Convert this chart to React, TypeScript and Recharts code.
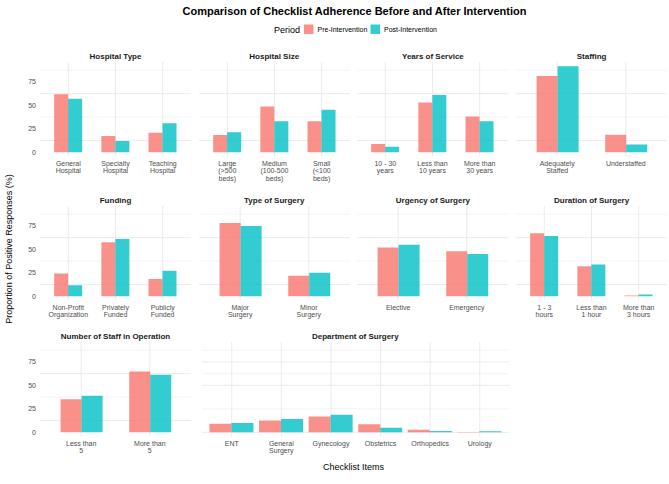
import React from 'react';
import { BarChart, Bar, XAxis, YAxis, CartesianGrid } from 'recharts';

// ---- data (proportion of positive responses, %) ----
const hospitalTypeCats = ['General\nHospital', 'Specialty\nHospital', 'Teaching\nHospital'];
const hospitalTypePre = [61.8, 17.4, 20.8];
const hospitalTypePost = [57.1, 12.0, 30.9];

const hospitalSizeCats = ['Large\n(>500\nbeds)', 'Medium\n(100-500\nbeds)', 'Small\n(<100\nbeds)'];
const hospitalSizePre = [18.3, 48.7, 33.0];
const hospitalSizePost = [21.4, 33.2, 45.4];

const serviceCats = ['10 - 30\nyears', 'Less than\n10 years', 'More than\n30 years'];
const servicePre = [8.8, 53.0, 38.2];
const servicePost = [6.0, 61.0, 33.0];

const staffingCats = ['Adequately\nStaffed', 'Understaffed'];
const staffingPre = [81.2, 18.8];
const staffingPost = [91.6, 8.4];

const fundingCats = ['Non-Profit\nOrganization', 'Privately\nFunded', 'Publicly\nFunded'];
const fundingPre = [24.2, 57.5, 18.3];
const fundingPost = [11.7, 61.1, 27.2];

const surgeryTypeCats = ['Major\nSurgery', 'Minor\nSurgery'];
const surgeryTypePre = [78.1, 21.9];
const surgeryTypePost = [74.9, 25.1];

const urgencyCats = ['Elective', 'Emergency'];
const urgencyPre = [51.9, 48.1];
const urgencyPost = [54.9, 45.1];

const durationCats = ['1 - 3\nhours', 'Less than\n1 hour', 'More than\n3 hours'];
const durationPre = [67.2, 31.9, 0.9];
const durationPost = [64.3, 33.8, 1.9];

const staffCountCats = ['Less than\n5', 'More than\n5'];
const staffCountPre = [35.2, 64.8];
const staffCountPost = [38.8, 61.2];

const departmentCats = ['ENT', 'General\nSurgery', 'Gynecology', 'Obstetrics', 'Orthopedics', 'Urology'];
const departmentPre = [18.0, 25.0, 33.6, 17.2, 5.4, 0.8];
const departmentPost = [19.8, 28.2, 37.4, 9.8, 2.8, 2.0];

const yMajorTicks = [0, 25, 50, 75];
const yMinorTicks = [12.5, 37.5, 62.5, 87.5];

// ---- styling / layout ----
const PRE = '#F8766D';
const POST = '#00BFC4';
const FONT = '"Liberation Sans", Arial, Helvetica, sans-serif';
const GRID = '#EBEBEB';
const COL_LEFT = [40, 198.7, 357.4, 516.1];
const ROW_TOP = [61.7, 205.9, 342];
const PANEL_W = 151;
const PANEL_H = 94.6;
const LABEL_H = 32;

const mainMax = Math.max(
  ...hospitalTypePre, ...hospitalTypePost, ...hospitalSizePre, ...hospitalSizePost,
  ...servicePre, ...servicePost, ...staffingPre, ...staffingPost,
  ...fundingPre, ...fundingPost, ...surgeryTypePre, ...surgeryTypePost,
  ...urgencyPre, ...urgencyPost, ...durationPre, ...durationPost,
  ...staffCountPre, ...staffCountPost
);
const mainDomain: [number, number] = [-0.05 * mainMax, 1.05 * mainMax];
const mainTicks = [...yMajorTicks, ...yMinorTicks].sort((a, b) => a - b);
const deptDomain: [number, number] = [mainDomain[0] * 2, mainDomain[1] * 2];
const deptTicks = mainTicks.map(t => t * 2);

const CatTick = (props: any) => {
  const { x, y, payload } = props;
  const lines = String(payload.value).split('\n');
  return (
    <text x={x} y={y + 9} textAnchor="middle" fontSize={7} fill="#4D4D4D" fontFamily={FONT}>
      {lines.map((l, i) => (
        <tspan key={i} x={x} dy={i === 0 ? 0 : 7.8}>{l}</tspan>
      ))}
    </text>
  );
};

const gridLine = (p: any) => {
  const major = p.index % 2 === 0;
  return (
    <line key={p.key} x1={p.x1} y1={p.y1} x2={p.x2} y2={p.y2} stroke={GRID} strokeWidth={major ? 1 : 0.6} />
  );
};

interface PanelProps {
  title: string;
  cats: string[];
  pre: number[];
  post: number[];
  left: number;
  top: number;
  width: number;
  showY: boolean;
  domain: [number, number];
  ticks: number[];
  gap: string;
}

const Panel: React.FC<PanelProps> = ({ cats, pre, post, left, top, width, showY, domain, ticks, gap }) => {
  const data = cats.map((c, i) => ({ cat: c, pre: pre[i], post: post[i] }));
  const unit = width / (cats.length + 0.2);
  const axisW = showY ? 40 : 0;
  return (
    <div style={{ position: 'absolute', left: left - axisW, top }}>
      <BarChart
        width={width + axisW}
        height={PANEL_H + LABEL_H}
        data={data}
        margin={{ top: 0, right: 0, bottom: 0, left: 0 }}
        barGap={0}
        barCategoryGap={gap}
      >
        <CartesianGrid horizontal={gridLine} stroke={GRID} strokeWidth={1} syncWithTicks />
        <XAxis
          dataKey="cat"
          type="category"
          interval={0}
          padding={{ left: unit * 0.1, right: unit * 0.1 }}
          axisLine={false}
          tickLine={false}
          tickSize={0}
          tickMargin={0}
          height={LABEL_H}
          tick={<CatTick />}
        />
        <YAxis
          hide={!showY}
          width={axisW}
          type="number"
          domain={domain}
          ticks={ticks}
          allowDataOverflow
          axisLine={false}
          tickLine={false}
          tickSize={0}
          tickMargin={4}
          tick={{ fontSize: 7, fill: '#4D4D4D', fontFamily: FONT }}
          tickFormatter={(v: number) => (yMajorTicks.includes(v) ? String(v) : '')}
        />
        <Bar dataKey="pre" fill={PRE} fillOpacity={0.8} isAnimationActive={false} />
        <Bar dataKey="post" fill={POST} fillOpacity={0.8} isAnimationActive={false} />
      </BarChart>
    </div>
  );
};

const panels = [
  { title: 'Hospital Type', cats: hospitalTypeCats, pre: hospitalTypePre, post: hospitalTypePost, row: 0, col: 0 },
  { title: 'Hospital Size', cats: hospitalSizeCats, pre: hospitalSizePre, post: hospitalSizePost, row: 0, col: 1 },
  { title: 'Years of Service', cats: serviceCats, pre: servicePre, post: servicePost, row: 0, col: 2 },
  { title: 'Staffing', cats: staffingCats, pre: staffingPre, post: staffingPost, row: 0, col: 3 },
  { title: 'Funding', cats: fundingCats, pre: fundingPre, post: fundingPost, row: 1, col: 0 },
  { title: 'Type of Surgery', cats: surgeryTypeCats, pre: surgeryTypePre, post: surgeryTypePost, row: 1, col: 1 },
  { title: 'Urgency of Surgery', cats: urgencyCats, pre: urgencyPre, post: urgencyPost, row: 1, col: 2 },
  { title: 'Duration of Surgery', cats: durationCats, pre: durationPre, post: durationPost, row: 1, col: 3 },
  { title: 'Number of Staff in Operation', cats: staffCountCats, pre: staffCountPre, post: staffCountPost, row: 2, col: 0 },
];

const DEPT_LEFT = 201.6;
const DEPT_W = 307.5;

export default function App() {
  const titles = [
    ...panels.map(p => ({ t: p.title, x: COL_LEFT[p.col] + PANEL_W / 2, y: ROW_TOP[p.row] - 3.2 })),
    { t: 'Department of Surgery', x: DEPT_LEFT + DEPT_W / 2, y: ROW_TOP[2] - 3.2 },
  ];
  return (
    <div style={{ position: 'absolute', left: 0, top: 0, width: 669, height: 484, background: '#fff', fontFamily: FONT }}>
      <svg width={669} height={484} style={{ position: 'absolute', left: 0, top: 0 }} fontFamily={FONT}>
        <text x={354.5} y={14.5} textAnchor="middle" fontSize={11} fontWeight="bold" fill="#000">
          Comparison of Checklist Adherence Before and After Intervention
        </text>
        <text x={274} y={32.5} fontSize={9} fill="#000">Period</text>
        <rect x={304} y={24.5} width={9.5} height={9.5} fill={PRE} fillOpacity={0.8} />
        <text x={317.5} y={31.8} fontSize={7} fill="#000">Pre-Intervention</text>
        <rect x={370.5} y={24.5} width={9.5} height={9.5} fill={POST} fillOpacity={0.8} />
        <text x={384} y={31.8} fontSize={7} fill="#000">Post-Intervention</text>
        {titles.map(t => (
          <text key={t.t} x={t.x} y={t.y} textAnchor="middle" fontSize={8} fontWeight="bold" fill="#1A1A1A">{t.t}</text>
        ))}
        <text transform="translate(12,249) rotate(-90)" textAnchor="middle" fontSize={9} fill="#000">
          Proportion of Positive Responses (%)
        </text>
        <text x={353.5} y={470} textAnchor="middle" fontSize={9} fill="#000">Checklist Items</text>
      </svg>
      {panels.map(p => (
        <Panel
          key={p.title}
          title={p.title}
          cats={p.cats}
          pre={p.pre}
          post={p.post}
          left={COL_LEFT[p.col]}
          top={ROW_TOP[p.row]}
          width={PANEL_W}
          showY={p.col === 0}
          domain={mainDomain}
          ticks={mainTicks}
          gap="20%"
        />
      ))}
      <Panel
        title="Department of Surgery"
        cats={departmentCats}
        pre={departmentPre}
        post={departmentPost}
        left={DEPT_LEFT}
        top={ROW_TOP[2]}
        width={DEPT_W}
        showY={false}
        domain={deptDomain}
        ticks={deptTicks}
        gap="5%"
      />
    </div>
  );
}
